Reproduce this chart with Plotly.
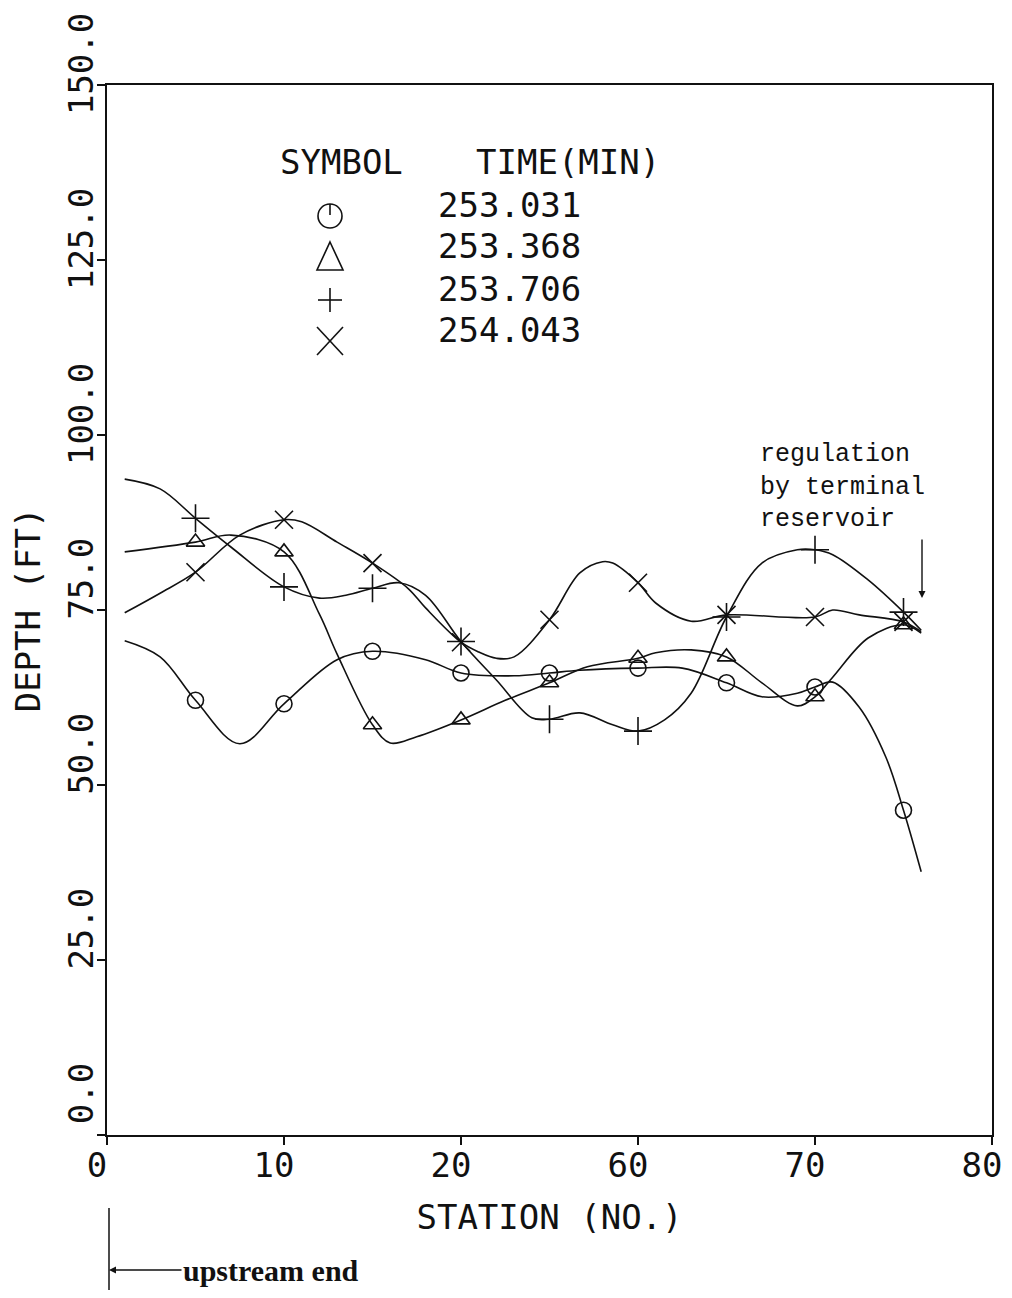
import plotly.graph_objects as go

# ---------------- data ----------------
MARKER_STATIONS = [5, 10, 15, 20, 25, 60, 65, 70, 75]

TIMES = ["253.031", "253.368", "253.706", "254.043"]

# depth at marker stations
DEPTH_253_031 = [62.1, 61.6, 69.1, 66.0, 66.0, 66.7, 64.6, 64.0, 46.4]
DEPTH_253_368 = [84.7, 83.3, 58.6, 59.3, 64.6, 68.1, 68.3, 62.6, 72.9]
DEPTH_253_706 = [88.1, 78.3, 78.1, 70.5, 59.4, 57.7, 74.0, 83.6, 74.7]
DEPTH_254_043 = [80.4, 87.9, 81.7, 70.4, 73.6, 78.9, 74.3, 74.0, 73.3]

# computed profile curves
CURVE_ST_253_031 = [1, 3, 5, 7.5, 10, 13, 15, 18, 20, 23, 25, 37, 60, 62.5, 65, 67, 69, 70, 71, 72.5, 74, 75, 76]
CURVE_D_253_031 = [70.6, 68.3, 62.1, 55.9, 61.6, 67.9, 69.1, 67.9, 66.0, 65.6, 66.0, 66.4, 66.7, 66.7, 64.6, 62.6, 63.1, 64.0, 64.7, 61.1, 54.0, 46.4, 37.6]

CURVE_ST_253_368 = [1, 5, 7, 10, 12, 13, 15, 16, 17.5, 20, 22.5, 25, 40, 60, 61, 63, 65, 67, 69, 70, 71, 73, 75, 76]
CURVE_D_253_368 = [83.3, 84.7, 85.7, 83.3, 74.4, 68.7, 58.6, 56.0, 56.9, 59.3, 62.1, 64.6, 66.9, 68.1, 68.9, 69.3, 68.3, 64.6, 61.3, 62.6, 65.4, 71.0, 72.9, 71.7]

CURVE_ST_253_706 = [1, 3, 5, 7, 10, 12, 13.5, 15, 16.5, 18, 20, 22, 24, 25, 37, 50, 60, 61.5, 63, 65, 67, 69, 70, 71, 73, 75, 76]
CURVE_D_253_706 = [93.7, 92.3, 88.1, 84.0, 78.3, 76.7, 77.1, 78.1, 78.9, 77.1, 70.5, 65.0, 59.6, 59.4, 60.3, 58.6, 57.7, 59.3, 63.1, 74.0, 81.7, 83.6, 83.6, 82.9, 79.3, 74.7, 72.1]

CURVE_ST_254_043 = [1, 3, 5, 7.5, 10, 11, 13, 15, 17, 18, 20, 21, 22, 23, 25, 37, 46, 50, 60, 61, 63, 65, 70, 71, 72.5, 75, 76]
CURVE_D_254_043 = [74.6, 77.4, 80.4, 85.7, 87.9, 87.6, 84.7, 81.7, 78.1, 75.3, 70.4, 69.0, 68.1, 68.3, 73.6, 80.3, 81.9, 81.7, 78.9, 76.0, 73.4, 74.3, 74.0, 75.0, 74.3, 73.3, 71.9]

X_TICK_STATIONS = [0, 10, 20, 60, 70, 80]
X_TICK_LABELS = ["0", "10", "20", "60", "70", "80"]
Y_TICK_VALUES = [0, 25, 50, 75, 100, 125, 150]
Y_TICK_LABELS = ["0.0", "25.0", "50.0", "75.0", "100.0", "125.0", "150.0"]


# broken station axis: 0-25 true scale, 25-60 compressed, 60-80 true scale
def axis_pos(s):
    if s <= 25:
        return s
    if s >= 60:
        return s - 30
    return 25 + (s - 25) * 5.0 / 35.0


MONO = "DejaVu Sans Mono"
BLACK = "#111111"

series = [
    (CURVE_ST_253_031, CURVE_D_253_031, DEPTH_253_031, "circle-open", 16),
    (CURVE_ST_253_368, CURVE_D_253_368, DEPTH_253_368, "triangle-up-open", 16),
    (CURVE_ST_253_706, CURVE_D_253_706, DEPTH_253_706, "cross-thin-open", 20),
    (CURVE_ST_254_043, CURVE_D_254_043, DEPTH_254_043, "x-thin-open", 18),
]

fig = go.Figure()
for (cst, cd, md, sym, sz), t in zip(series, TIMES):
    fig.add_trace(go.Scatter(
        x=[axis_pos(s) for s in cst], y=cd, mode="lines",
        line=dict(color=BLACK, width=1.6, shape="spline", smoothing=1.0),
        showlegend=False, hoverinfo="skip", cliponaxis=False))
    fig.add_trace(go.Scatter(
        x=[axis_pos(s) for s in MARKER_STATIONS], y=md, mode="markers",
        name=t, showlegend=False,
        marker=dict(symbol=sym, size=sz, color=BLACK,
                    line=dict(color=BLACK, width=1.6)),
        cliponaxis=False))

OFF = 8  # page body margin
W, H = 996, 1282
L, R, T, B = 99, 12, 77, 155
PW, PH = W - L - R, H - T - B


def px_x(px):
    return (px - OFF - L) / PW


def px_y(py):
    return (T + PH - (py - OFF)) / PH


ann = []
ann.append(dict(text="SYMBOL", x=px_x(341), y=px_y(162)))
ann.append(dict(text="TIME(MIN)", x=px_x(568), y=px_y(162)))
for t, yy in zip(TIMES, [205, 246, 289, 330]):
    ann.append(dict(text=t, x=px_x(509), y=px_y(yy)))
for a in ann:
    a.update(xref="paper", yref="paper", showarrow=False,
             xanchor="center", yanchor="middle",
             font=dict(family=MONO, size=34, color=BLACK))

ann.append(dict(text="regulation<br>by terminal<br>reservoir",
                xref="paper", yref="paper", x=px_x(758), y=px_y(487),
                xanchor="left", yanchor="middle", align="left", showarrow=False,
                font=dict(family="Liberation Mono", size=25, color=BLACK)))
ann.append(dict(text="", xref="paper", yref="paper", x=px_x(922), y=px_y(598),
                ax=0, ay=-60, showarrow=True, arrowhead=2, arrowsize=1,
                arrowwidth=1.4, arrowcolor=BLACK))
ann.append(dict(text="<b>upstream end</b>", xref="paper", yref="paper",
                x=px_x(109), y=px_y(1270), ax=162, ay=0, showarrow=True,
                arrowhead=2, arrowsize=1, arrowwidth=1.4, arrowcolor=BLACK,
                font=dict(family="Liberation Serif", size=30, color=BLACK)))

# legend key symbols drawn as outline shapes
lw = dict(color=BLACK, width=1.6)
shapes = [
    dict(type="line", x0=px_x(109), x1=px_x(109), y0=px_y(1208), y1=px_y(1300), line=dict(color=BLACK, width=1.5)),
    # circle with tick
    dict(type="circle", x0=px_x(318), x1=px_x(342), y0=px_y(204), y1=px_y(228), line=lw),
    dict(type="line", x0=px_x(330), x1=px_x(330), y0=px_y(204), y1=px_y(215), line=lw),
    # triangle
    dict(type="path", line=lw,
         path="M {:.5f},{:.5f} L {:.5f},{:.5f} L {:.5f},{:.5f} Z".format(
             px_x(330), px_y(242), px_x(343), px_y(270), px_x(317), px_y(270))),
    # plus
    dict(type="line", x0=px_x(318), x1=px_x(342), y0=px_y(300), y1=px_y(300), line=lw),
    dict(type="line", x0=px_x(330), x1=px_x(330), y0=px_y(288), y1=px_y(312), line=lw),
    # x
    dict(type="line", x0=px_x(317), x1=px_x(343), y0=px_y(327), y1=px_y(355), line=lw),
    dict(type="line", x0=px_x(317), x1=px_x(343), y0=px_y(355), y1=px_y(327), line=lw),
]
for s in shapes:
    s.update(xref="paper", yref="paper")

fig.update_layout(
    width=W, height=H,
    margin=dict(l=L, r=R, t=T, b=B, pad=0, autoexpand=False),
    paper_bgcolor="white", plot_bgcolor="white",
    font=dict(family=MONO, size=34, color=BLACK),
    showlegend=False,
    annotations=ann,
    shapes=shapes,
    xaxis=dict(range=[0, 50], tickvals=[axis_pos(s) for s in X_TICK_STATIONS],
               ticktext=X_TICK_LABELS, showline=True, linecolor=BLACK, linewidth=2,
               mirror=True, ticks="outside", ticklen=8, tickwidth=2, tickcolor=BLACK,
               showgrid=False, zeroline=False, tickfont=dict(size=34),
               ticklabelstandoff=-9, ticklabelshift=-10,
               ticklabeloverflow="allow", automargin=False,
               title=dict(text="STATION (NO.)", font=dict(size=34), standoff=21)),
    yaxis=dict(range=[0, 150], tickvals=Y_TICK_VALUES,
               ticktext=[s.rjust(5, "\u00a0") for s in Y_TICK_LABELS],
               tickangle=-90, ticklabelshift=-16, ticklabelstandoff=-10,
               ticklabeloverflow="allow", automargin=False,
               showline=True, linecolor=BLACK, linewidth=2,
               mirror=True, ticks="outside", ticklen=8, tickwidth=2, tickcolor=BLACK,
               showgrid=False, zeroline=False, tickfont=dict(size=34),
               title=dict(text="DEPTH (FT)", font=dict(size=34), standoff=14)),
)

fig.write_html("out.html")
